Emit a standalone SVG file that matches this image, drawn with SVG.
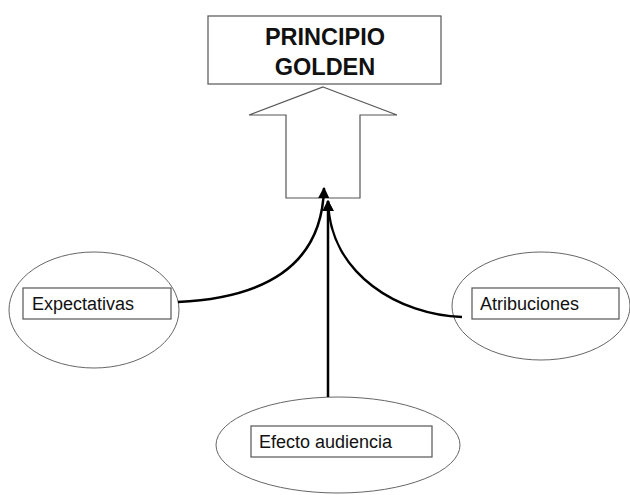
<svg xmlns="http://www.w3.org/2000/svg" width="630" height="495" viewBox="0 0 630 495">
<style>
.box{fill:#fff;stroke:#555;stroke-width:1.2}
.ell{fill:#fff;stroke:#666;stroke-width:1}
.lbl{font-family:"Liberation Sans",Arial,sans-serif;font-size:18px;fill:#111}
.ttl{font-family:"Liberation Sans",Arial,sans-serif;font-size:23.5px;font-weight:bold;fill:#111;text-anchor:middle}
.con{fill:none;stroke:#000;stroke-width:2.5}
</style>
<defs>
<marker id="ah" viewBox="0 0 10 10" refX="9" refY="5" markerWidth="4.5" markerHeight="4.5" orient="auto" markerUnits="strokeWidth">
<path d="M0,0 L10,5 L0,10 z" fill="#000"/>
</marker>
</defs>
<rect width="630" height="495" fill="#fff"/>
<g id="principio">
<rect class="box" x="208" y="16" width="233" height="68"/>
<text class="ttl" x="325" y="45">PRINCIPIO</text>
<text class="ttl" x="325" y="75">GOLDEN</text>
</g>
<g id="big-arrow">
<polygon class="box" points="323,87 397,115 360,115 360,198 286,198 286,115 249,115"/>
</g>
<g id="expectativas">
<ellipse class="ell" cx="94" cy="310" rx="85" ry="58"/>
<rect class="box" x="23" y="288" width="148" height="31"/>
<text class="lbl" x="32" y="310">Expectativas</text>
</g>
<g id="atribuciones">
<ellipse class="ell" cx="541" cy="306" rx="89" ry="54"/>
<rect class="box" x="472" y="288" width="147" height="31"/>
<text class="lbl" x="480" y="310">Atribuciones</text>
</g>
<g id="efecto">
<ellipse class="ell" cx="338" cy="445" rx="122" ry="48"/>
<rect class="box" x="251" y="426" width="181" height="31"/>
<text class="lbl" x="259" y="448">Efecto audiencia</text>
</g>
<g id="connectors">
<path class="con" d="M178,302 C262,298 322,268 324,188" marker-end="url(#ah)"/>
<path class="con" d="M462,317 C400,315 330,275 328,201" marker-end="url(#ah)"/>
<path class="con" d="M328,397 L328,201" marker-end="url(#ah)"/>
</g>
</svg>
